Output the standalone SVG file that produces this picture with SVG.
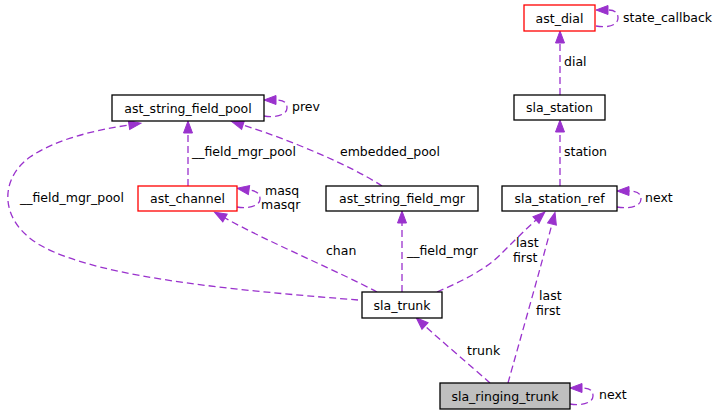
<svg xmlns="http://www.w3.org/2000/svg" width="721" height="415" viewBox="0 0 721 415">
<style>
.n rect{fill:#ffffff;stroke:#000000;stroke-width:1.3}
.n.red rect{stroke:#ff0000}
.n.hl rect{fill:#bfbfbf}
text{font-family:"DejaVu Sans",sans-serif;font-size:12.5px;fill:#000000}
.n text{text-anchor:middle}
#edges path{fill:none;stroke:#9a32cd;stroke-width:1.3;stroke-dasharray:7,4;marker-end:url(#ah)}
</style>
<defs>
<marker id="ah" markerUnits="userSpaceOnUse" markerWidth="14" markerHeight="12" refX="0" refY="5" orient="auto" viewBox="0 0 14 10" overflow="visible">
<path d="M0,0.5 L12,5 L0,9.5 z" fill="#9a32cd" stroke="#9a32cd" stroke-width="1" stroke-dasharray="none"/>
</marker>
</defs>
<rect width="721" height="415" fill="#ffffff"/>
<g id="edges">
<path d="M596,26 C606,28 618,26 618,18 C618,12 614,10 608,10"/>
<path d="M560,95 L560,43"/>
<path d="M560,186 L560,132"/>
<path d="M617,207 C628,209 641,207 641,199 C641,193 637,191 629,191"/>
<path d="M264,116 C275,118 287,115 287,108 C287,102 283,100 276,100"/>
<path d="M237,207 C248,209 260,206 260,199 C260,193 256,191 249,190"/>
<path d="M188,186 L188,133"/>
<path d="M382,186 C350,165 290,140 243,125"/>
<path d="M358,300 C260,292 100,280 40,245 C0,222 -2,180 30,157 C55,140 90,131 129,125"/>
<path d="M377,292 C340,272 270,243 225,218"/>
<path d="M402,292 L402,223"/>
<path d="M437,292 C460,282 485,270 500,255 C512,243 525,230 536,220"/>
<path d="M508,383 C520,340 540,270 552,224"/>
<path d="M490,383 C470,365 440,340 425,326"/>
<path d="M570,404 C581,406 593,403 593,396 C593,390 589,388 582,388"/>
</g>
<g id="edge-labels">
<text x="623" y="21.5">state_callback</text>
<text x="564" y="66">dial</text>
<text x="564" y="156">station</text>
<text x="645" y="201.5">next</text>
<text x="292" y="111">prev</text>
<text x="265" y="194.5">masq</text>
<text x="261" y="209">masqr</text>
<text x="192" y="156">__field_mgr_pool</text>
<text x="340" y="156">embedded_pool</text>
<text x="20" y="202">__field_mgr_pool</text>
<text x="326" y="255">chan</text>
<text x="407" y="255">__field_mgr</text>
<text x="516" y="247">last</text>
<text x="513" y="262">first</text>
<text x="539" y="300">last</text>
<text x="536" y="315">first</text>
<text x="467" y="355">trunk</text>
<text x="599" y="399">next</text>
</g>
<g id="ast_dial" class="n red"><rect x="524" y="5" width="71" height="26"/><text x="559.5" y="22.5">ast_dial</text></g>
<g id="sla_station" class="n"><rect x="514" y="95" width="91" height="25"/><text x="559.5" y="112">sla_station</text></g>
<g id="sla_station_ref" class="n"><rect x="502" y="186" width="115" height="25"/><text x="559.5" y="203">sla_station_ref</text></g>
<g id="ast_string_field_mgr" class="n"><rect x="326" y="186" width="152" height="25"/><text x="402" y="203">ast_string_field_mgr</text></g>
<g id="ast_string_field_pool" class="n"><rect x="112" y="95" width="152" height="26"/><text x="188" y="112.5">ast_string_field_pool</text></g>
<g id="ast_channel" class="n red"><rect x="138" y="186" width="99" height="25"/><text x="187.5" y="203">ast_channel</text></g>
<g id="sla_trunk" class="n"><rect x="362" y="292" width="80" height="26"/><text x="402" y="309.5">sla_trunk</text></g>
<g id="sla_ringing_trunk" class="n hl"><rect x="440" y="383" width="130" height="26"/><text x="505" y="400.5">sla_ringing_trunk</text></g>
</svg>
